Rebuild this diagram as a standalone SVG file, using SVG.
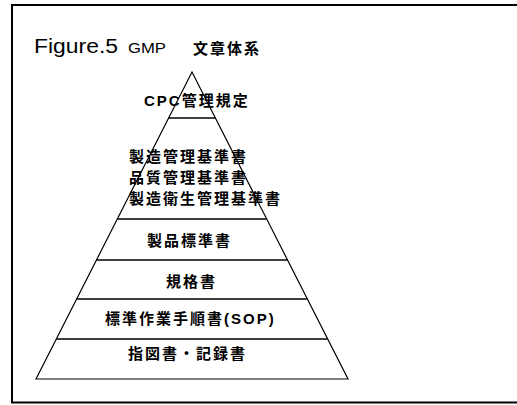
<svg xmlns="http://www.w3.org/2000/svg" width="517" height="405" viewBox="0 0 517 405">
<style>
.frame{fill:none;stroke:#000;stroke-width:2}
.edge{fill:none;stroke:#000;stroke-width:1.2;stroke-linejoin:miter}
.div{stroke:#000;stroke-width:1.3}
.t{font-family:"Liberation Sans","Noto Sans CJK JP",sans-serif;font-weight:bold;font-size:15px;letter-spacing:2px;fill:#000}
.title{font-family:"Liberation Sans","Noto Sans CJK JP",sans-serif;fill:#000}
</style>
<rect width="517" height="405" fill="#fff"/>
<g id="frame">
<path class="frame" d="M517,5 H12 V402.5 H517"/>
</g>
<g id="title">
<text class="title" x="34" y="53" font-size="20" textLength="84" lengthAdjust="spacingAndGlyphs">Figure.5</text>
<text class="title" x="128" y="53" font-size="15" textLength="38" lengthAdjust="spacingAndGlyphs">GMP</text>
<text class="title" x="193" y="54" font-size="15" font-weight="bold" letter-spacing="2">文章体系</text>
</g>
<g id="connectors">
<path class="edge" d="M36,379 L192,72 L348,379 Z"/>
<line class="div" x1="168.6" y1="118" x2="215.4" y2="118"/>
<line class="div" x1="117.3" y1="219" x2="266.7" y2="219"/>
<line class="div" x1="96.5" y1="260" x2="287.5" y2="260"/>
<line class="div" x1="76.7" y1="299" x2="307.3" y2="299" stroke-width="1.6"/>
<line class="div" x1="56.4" y1="339" x2="327.6" y2="339"/>
</g>
<g id="level1"><text class="t" x="144" y="106">CPC管理規定</text></g>
<g id="level2">
<text class="t" x="129" y="162">製造管理基準書</text>
<text class="t" x="129" y="183">品質管理基準書</text>
<text class="t" x="129" y="204">製造衛生管理基準書</text>
</g>
<g id="level3"><text class="t" x="147" y="246">製品標準書</text></g>
<g id="level4"><text class="t" x="166" y="287">規格書</text></g>
<g id="level5"><text class="t" x="105" y="324">標準作業手順書(SOP)</text></g>
<g id="level6"><text class="t" x="128" y="359">指図書・記録書</text></g>
</svg>
